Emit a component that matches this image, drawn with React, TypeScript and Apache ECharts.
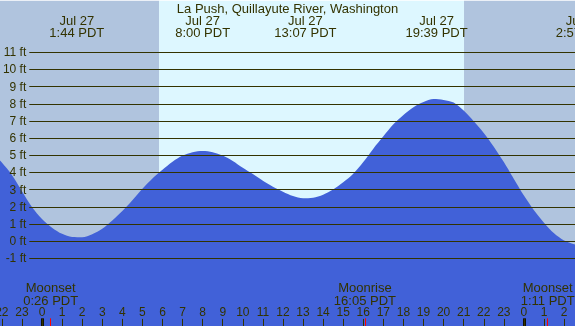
import React, { useEffect, useRef } from 'react';
import * as echarts from 'echarts';

const TITLE = 'La Push, Quillayute River, Washington';
// hours since midnight Jul 27 (PDT)
const hours = [
  -2.5, -2, -1.5, -1, -0.5, 0, 0.5, 1, 1.5, 2, 2.5, 3, 3.5, 4, 4.5, 5, 5.5, 6, 6.5, 7,
  7.5, 8, 8.5, 9, 9.5, 10, 10.5, 11, 11.5, 12, 12.5, 13, 13.5, 14, 14.5, 15, 15.5, 16, 16.5, 17,
  17.5, 18, 18.5, 19, 19.5, 20, 20.5, 21, 21.5, 22, 22.5, 23, 23.5, 24, 24.5, 25, 25.5, 26, 26.5, 27,
];
// tide height, ft
const heights = [
  5.2, 4.57, 3.85, 2.9, 1.98, 1.28, 0.78, 0.42, 0.24, 0.23, 0.4, 0.72, 1.2, 1.75, 2.38, 3.05, 3.65, 4.15, 4.62, 4.98,
  5.18, 5.25, 5.18, 4.98, 4.67, 4.27, 3.9, 3.52, 3.17, 2.88, 2.62, 2.49, 2.52, 2.7, 3.0, 3.42, 3.92, 4.6, 5.38, 6.1,
  6.8, 7.35, 7.8, 8.1, 8.27, 8.22, 8.07, 7.6, 6.98, 6.3, 5.5, 4.6, 3.62, 2.65, 1.8, 1.07, 0.45, 0.03, -0.18, -0.28,
];
const tideEventTimes = [1.733, 8.0, 13.117, 19.65, 26.95];
const tideEventDates = ['Jul 27', 'Jul 27', 'Jul 27', 'Jul 27', 'Jul 28'];
const tideEventLabels = ['1:44 PDT', '8:00 PDT', '13:07 PDT', '19:39 PDT', '2:57 PDT'];
const sunrise = 5.833;
const sunset = 21.017;
const moonTimes = [0.433, 16.083, 25.183];
const moonNames = ['Moonset', 'Moonrise', 'Moonset'];
const moonLabels = ['0:26 PDT', '16:05 PDT', '1:11 PDT'];
const midnights = [0, 24];
const ftMin = -1;
const ftMax = 11;

const TEXT = '#333300';
const NIGHT = '#b0c4de';
const DAY = '#ddf7ff';
const WATER = '#4161d8';
const FONT = '"Liberation Sans", Arial, sans-serif';

export default function App() {
  const ref = useRef<HTMLDivElement>(null);
  useEffect(() => {
    document.body.style.margin = '0';
    const chart = echarts.init(ref.current!, null, { renderer: 'svg' });
    const tickLine = (t: number, color: string, width: number) => [
      { coord: [t, -5], lineStyle: { color, width, type: 'solid' } },
      { coord: [t, -4.5] },
    ];
    chart.setOption({
      animation: false,
      textStyle: { fontFamily: FONT },
      grid: [
        { left: -18.24, width: 602.4, top: 0.72, height: 326.2, outerBoundsMode: 'none', containLabel: false },
        { left: 29.3, right: 0, top: 52.3, height: 206, outerBoundsMode: 'none', containLabel: false },
      ],
      xAxis: [
        {
          type: 'value', gridIndex: 0, min: -3, max: 27, interval: 1,
          axisLine: { show: false, onZero: false },
          splitLine: { show: false },
          axisTick: { show: true, inside: true, length: 8, lineStyle: { color: TEXT, width: 1 } },
          axisLabel: {
            show: true, inside: true, margin: 9, color: TEXT, fontSize: 12, fontFamily: FONT,
            formatter: (v: number) => String(((Math.round(v) % 24) + 24) % 24),
          },
          z: 5,
        },
        { type: 'value', gridIndex: 1, min: 0, max: 1, show: false },
      ],
      yAxis: [
        { type: 'value', gridIndex: 0, min: -5, max: 14, show: false },
        {
          type: 'value', gridIndex: 1, min: ftMin, max: ftMax, interval: 1,
          axisLine: { show: false }, axisTick: { show: false },
          splitLine: { show: true, lineStyle: { color: TEXT, width: 1 } },
          axisLabel: { margin: 3, color: TEXT, fontSize: 12, fontFamily: FONT, formatter: '{value} ft' },
          z: 4,
        },
      ],
      series: [
        {
          type: 'line', xAxisIndex: 0, yAxisIndex: 0, data: [], z: 1, silent: true,
          markArea: {
            silent: true,
            label: { show: false },
            data: [
              [{ xAxis: -3, itemStyle: { color: NIGHT } }, { xAxis: sunrise }],
              [{ xAxis: sunrise, itemStyle: { color: DAY } }, { xAxis: sunset }],
              [{ xAxis: sunset, itemStyle: { color: NIGHT } }, { xAxis: 27 }],
            ],
          },
        },
        {
          type: 'line', xAxisIndex: 0, yAxisIndex: 0, z: 2, silent: true,
          data: hours.map((h, i) => [h, heights[i]]),
          smooth: 0.3, symbol: 'none',
          lineStyle: { width: 0 },
          areaStyle: { color: WATER, opacity: 1, origin: 'start' },
        },
        {
          type: 'line', xAxisIndex: 0, yAxisIndex: 0, data: [], z: 6, silent: true,
          markLine: {
            silent: true, symbol: 'none', label: { show: false },
            data: [
              ...midnights.map((t) => tickLine(t, '#111100', 3)),
              ...moonTimes.map((t) => tickLine(t, '#ff0000', 1)),
            ],
          },
        },
      ],
    });
    const px = (t: number) => chart.convertToPixel({ xAxisIndex: 0 }, t) as number;
    const txt = (text: string, x: number, y: number, size = 13) => ({
      type: 'text', x, y, silent: true, z: 10,
      style: { text, fill: TEXT, fontSize: size, fontFamily: FONT, align: 'center', verticalAlign: 'middle' },
    });
    const graphics: any[] = [txt(TITLE, 287.5, 8)];
    tideEventTimes.forEach((t, i) => {
      const x = px(t);
      graphics.push(txt(tideEventDates[i], x, 20));
      graphics.push(txt(tideEventLabels[i], x, 32));
    });
    moonTimes.forEach((t, i) => {
      const x = px(t);
      graphics.push(txt(moonNames[i], x, 287.5));
      graphics.push(txt(moonLabels[i], x, 300));
    });
    chart.setOption({ graphic: graphics });
    return () => chart.dispose();
  }, []);
  return <div ref={ref} style={{ position: 'fixed', left: 0, top: 0, width: 575, height: 326 }} />;
}
